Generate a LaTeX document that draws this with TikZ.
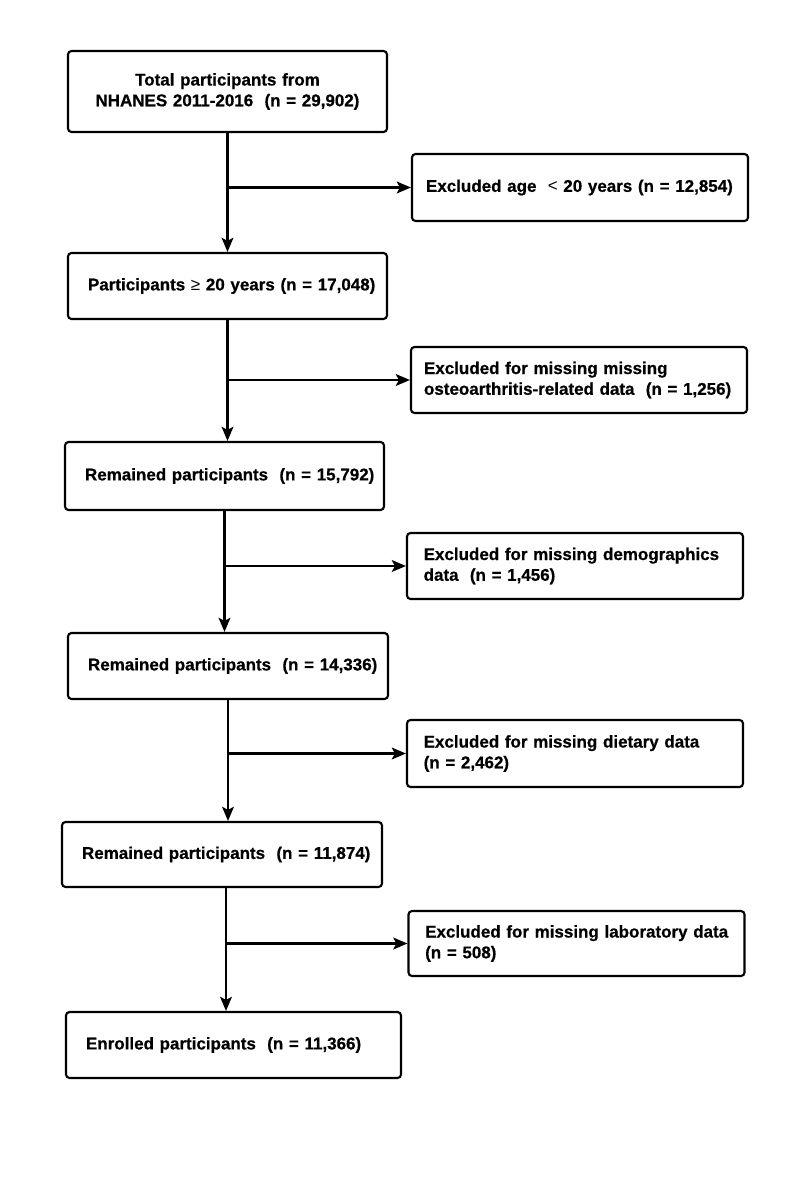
\documentclass[tikz,border=0pt]{standalone}
\usepackage{fontspec}
\setmainfont{Liberation Sans}[BoldFeatures={FakeBold=0.6}]
\usetikzlibrary{arrows.meta}
\begin{document}
\begin{tikzpicture}[x=0.03cm,y=-0.03cm,
    font=\fontsize{14.5pt}{17.7pt}\selectfont\bfseries,
    every path/.style={line width=1.8pt},
    link/.style={line width=1.8pt,-{Stealth[length=12pt,width=10pt,inset=2.5pt]}},
    stage/.style={draw,line width=1.8pt,rounded corners=3pt,inner xsep=0.6cm,inner ysep=0pt,text width=8.37cm,minimum height=1.98cm,align=left},
    excl/.style={draw,line width=1.8pt,rounded corners=3pt,inner xsep=0.5cm,inner ysep=0pt,text width=9.08cm,minimum height=1.98cm,align=left}]
  \useasboundingbox (0,0) rectangle (796,1181);
  \node[stage,align=center,minimum height=2.43cm] (total) at (227.5,91.5) {Total participants from\\NHANES 2011-2016\ \ (n = 29,902)};
  \node[stage] (adult) at (227.5,286) {\mbox{Participants {\mdseries ≥} 20 years (n = 17,048)}};
  \node[stage,minimum height=2.04cm] (rem1) at (224.5,476) {\mbox{Remained participants\ \ (n = 15,792)}};
  \node[stage,text width=8.4cm] (rem2) at (228,666) {\mbox{Remained participants\ \ (n = 14,336)}};
  \node[stage,text width=8.4cm,minimum height=1.95cm] (rem3) at (222,854.5) {\mbox{Remained participants\ \ (n = 11,874)}};
  \node[stage,text width=8.85cm] (enrol) at (233.5,1045) {\mbox{Enrolled participants\ \ (n = 11,366)}};
  \node[excl,inner xsep=0.42cm,text width=9.24cm,minimum height=2.01cm] (ex1) at (580,187.5) {\mbox{Excluded age\ \ {\mdseries <} 20 years (n = 12,854)}};
  \node[excl,inner xsep=0.39cm,text width=9.3cm] (ex2) at (579,380) {Excluded for missing missing\\\mbox{osteoarthritis-related data\ \ (n = 1,256)}};
  \node[excl] (ex3) at (575,566) {\mbox{Excluded for missing demographics}\\data\ \ (n = 1,456)};
  \node[excl,minimum height=2.01cm] (ex4) at (575,753.5) {\mbox{Excluded for missing dietary data}\\(n = 2,462)};
  \node[excl,minimum height=1.95cm] (ex5) at (576.5,943.5) {\mbox{Excluded for missing laboratory data}\\(n = 508)};
  % main line
  \draw[link] (total.south) -- (total.south |- adult.north);
  \draw[link] (adult.south) -- (adult.south |- rem1.north);
  \draw[link] (rem1.south) -- (rem1.south |- rem2.north);
  \draw[link] (rem2.south) -- (rem2.south |- rem3.north);
  \draw[link] ([xshift=0.12cm]rem3.south) -- ([xshift=0.12cm]rem3.south |- enrol.north);
  % exclusions
  \draw[link] (total.south |- ex1.west) -- (ex1.west);
  \draw[link] (adult.south |- ex2.west) -- (ex2.west);
  \draw[link] (rem1.south |- ex3.west) -- (ex3.west);
  \draw[link] (rem2.south |- ex4.west) -- (ex4.west);
  \draw[link] ([xshift=0.12cm]rem3.south |- ex5.west) -- (ex5.west);
\end{tikzpicture}
\end{document}
